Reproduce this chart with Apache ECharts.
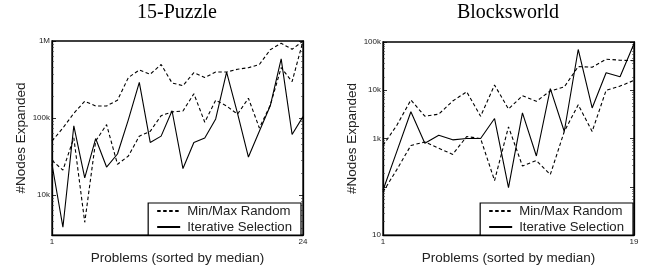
<!DOCTYPE html>
<html>
<head>
<meta charset="utf-8">
<script src="https://cdn.jsdelivr.net/npm/echarts@6/dist/echarts.min.js"></script>
<style>
  html, body { margin: 0; padding: 0; background: #fff; }
  #chart { width: 649px; height: 270px; }
</style>
</head>
<body>
<div id="chart"></div>
<script>
  // 15-Puzzle, 24 problems
  var puzzleProblems = ['1','2','3','4','5','6','7','8','9','10','11','12','13','14','15','16','17','18','19','20','21','22','23','24'];
  var puzzleMax = [50000, 74000, 115000, 165000, 143000, 143000, 170000, 335000, 420000, 370000, 495000, 285000,
                   263000, 388000, 335000, 395000, 395000, 430000, 450000, 495000, 770000, 935000, 780000, 1000000];
  var puzzleMin = [28000, 21000, 55000, 4400, 50000, 82000, 25000, 32000, 58000, 67000, 107000, 120000,
                   123000, 206000, 88000, 170000, 143000, 112000, 180000, 74000, 146000, 450000, 296000, 1000000];
  var puzzleIter = [25000, 3800, 79000, 16600, 54000, 23000, 34000, 95000, 290000, 48000, 58000, 124000,
                    22000, 48000, 55000, 97000, 395000, 115000, 31000, 67000, 144000, 585000, 61000, 104000];

  // Blocksworld, 19 problems
  var blocksProblems = ['1','2','3','4','5','6','7','8','9','10','11','12','13','14','15','16','17','18','19'];
  var blocksMax = [720, 1900, 6300, 2900, 3200, 6000, 9300, 2900, 12800, 4100, 7700, 5900, 9700, 11700, 31000, 30000, 44000, 42000, 41000];
  var blocksMin = [78, 230, 720, 850, 630, 470, 1100, 1000, 135, 1750, 270, 350, 180, 1400, 5000, 1400, 10000, 12200, 16000];
  var blocksIter = [85, 550, 3600, 800, 1170, 940, 1000, 1000, 2600, 96, 3400, 435, 10800, 1400, 70000, 4300, 23000, 19000, 92000];

  var sans = 'Liberation Sans';
  var serif = 'Liberation Serif';

  function tickLabel(v) {
    if (v === 1000000) return '1M';
    if (v === 100000) return '100k';
    if (v === 10000) return '10k';
    if (v === 1000) return '1k';
    if (v === 10) return '10';
    return '';
  }

  function yLeft(gridIndex, min, max) {
    return {
      type: 'log', gridIndex: gridIndex, min: min, max: max, logBase: 10,
      name: '#Nodes Expanded', nameLocation: 'middle', nameGap: 23,
      nameTextStyle: { fontFamily: sans, fontSize: 13.5, color: '#222' },
      axisLine: { show: true, lineStyle: { color: '#000', width: 1.3 } },
      axisTick: { show: true, inside: true, length: 4, lineStyle: { color: '#000', width: 0.8 } },
      minorTick: { show: true, splitNumber: 10, length: 2, lineStyle: { color: '#333', width: 0.6 } },
      axisLabel: { fontFamily: sans, fontSize: 8, color: '#222', margin: 2, formatter: tickLabel },
      splitLine: { show: false }
    };
  }
  function yRight(gridIndex, min, max) {
    return {
      type: 'log', gridIndex: gridIndex, min: min, max: max, logBase: 10, position: 'right',
      axisLine: { show: true, lineStyle: { color: '#000', width: 1.3 } },
      axisTick: { show: true, inside: true, length: 4, lineStyle: { color: '#000', width: 0.8 } },
      minorTick: { show: true, splitNumber: 10, length: 2, lineStyle: { color: '#333', width: 0.6 } },
      axisLabel: { show: false },
      splitLine: { show: false }
    };
  }
  function xAxis(gridIndex, cats) {
    var last = cats.length - 1;
    return {
      type: 'category', gridIndex: gridIndex, data: cats, boundaryGap: false,
      name: 'Problems (sorted by median)', nameLocation: 'middle', nameGap: 14,
      nameTextStyle: { fontFamily: sans, fontSize: 13.5, color: '#222', verticalAlign: 'top' },
      axisLine: { show: true, lineStyle: { color: '#000', width: 1.3 } },
      axisTick: { show: false },
      axisLabel: {
        fontFamily: sans, fontSize: 8, color: '#222', margin: 3,
        interval: function (i) { return i === 0 || i === last; }
      },
      splitLine: { show: false }
    };
  }

  var dashed = { color: '#000', width: 1.1, type: [3.5, 2.5] };
  var solid = { color: '#000', width: 1.1, type: 'solid' };

  function line(name, data, xi, yi, style) {
    return {
      name: name, type: 'line', data: data, xAxisIndex: xi, yAxisIndex: yi,
      symbol: 'none', lineStyle: style, itemStyle: { color: '#000' },
      animation: false, silent: true
    };
  }

  function legendBox(right) {
    return {
      orient: 'vertical', right: right, top: 203,
      data: ['Min/Max Random', 'Iterative Selection'],
      itemWidth: 23, itemHeight: 8, itemGap: 3,
      padding: [1.5, 9, 1.5, 8],
      borderColor: '#000', borderWidth: 1.2, backgroundColor: '#fff',
      itemStyle: { opacity: 0 },
      textStyle: { fontFamily: sans, fontSize: 13.2, color: '#222', padding: [0, 0, 0, 2] },
      selectedMode: false
    };
  }

  var chart = echarts.init(document.getElementById('chart'), null, { renderer: 'canvas' });
  chart.setOption({
    animation: false,
    backgroundColor: '#fff',
    title: [
      { text: '15-Puzzle', left: 177, top: 3, padding: 0, textAlign: 'center',
        textStyle: { fontFamily: serif, fontSize: 20, fontWeight: 'normal', color: '#000' } },
      { text: 'Blocksworld', left: 508, top: 3, padding: 0, textAlign: 'center',
        textStyle: { fontFamily: serif, fontSize: 20, fontWeight: 'normal', color: '#000' } }
    ],
    legend: [legendBox(348), legendBox(16)],
    grid: [
      { left: 52, top: 41, width: 251, height: 198, show: true, borderColor: '#000', borderWidth: 1.3 },
      { left: 383, top: 42, width: 251, height: 197, show: true, borderColor: '#000', borderWidth: 1.3 }
    ],
    xAxis: [xAxis(0, puzzleProblems), xAxis(1, blocksProblems)],
    yAxis: [yLeft(0, 3000, 1000000), yRight(0, 3000, 1000000), yLeft(1, 10, 100000), yRight(1, 10, 100000)],
    series: [
      line('Min/Max Random', puzzleMax, 0, 0, dashed),
      line('Min/Max Random', puzzleMin, 0, 0, dashed),
      line('Iterative Selection', puzzleIter, 0, 0, solid),
      line('Min/Max Random', blocksMax, 1, 2, dashed),
      line('Min/Max Random', blocksMin, 1, 2, dashed),
      line('Iterative Selection', blocksIter, 1, 2, solid)
    ]
  });
</script>
</body>
</html>
